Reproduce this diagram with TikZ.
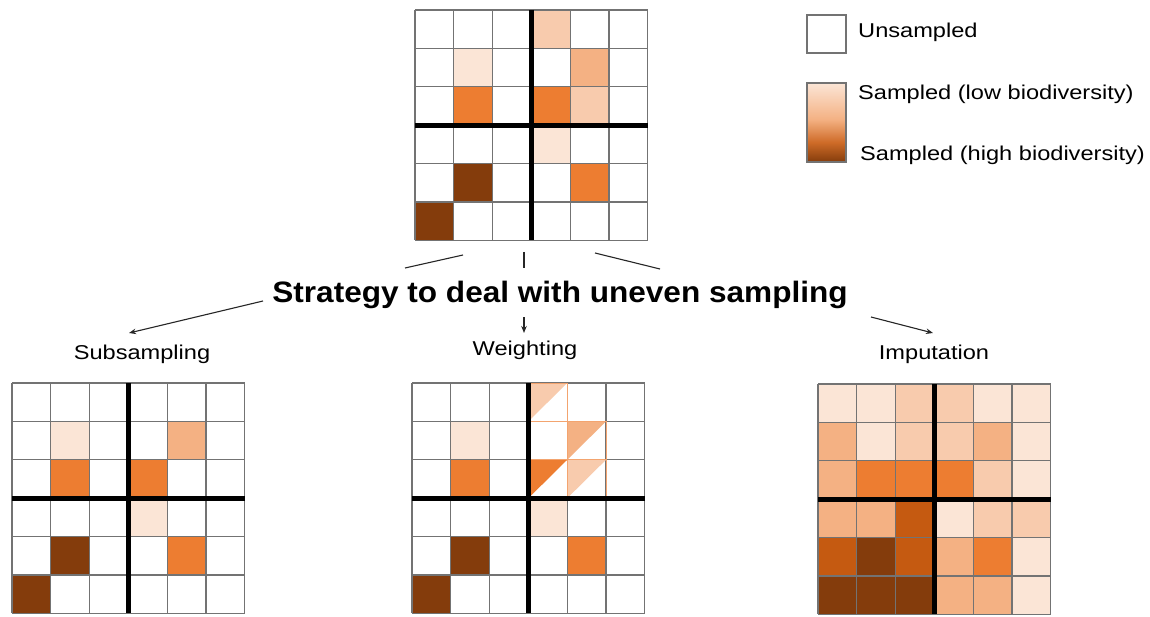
\documentclass[tikz,border=0pt]{standalone}
\usepackage{fontspec}
\setmainfont{Liberation Sans}
\newfontfamily\txtfont[FakeStretch=1.18]{Liberation Sans}
\newfontfamily\titfont[FakeStretch=1.07]{Liberation Sans}
\usetikzlibrary{arrows.meta}
\definecolor{cA}{HTML}{FBE5D6}
\definecolor{cB}{HTML}{F8CBAD}
\definecolor{cC}{HTML}{F4B183}
\definecolor{cD}{HTML}{ED7D31}
\definecolor{cE}{HTML}{C55A11}
\definecolor{cF}{HTML}{843C0C}
\definecolor{gline}{RGB}{115,115,115}
\pgfdeclareverticalshading{legshade}{100bp}{color(0bp)=(cF); color(25bp)=(cF); color(37.5bp)=(cE!80!cC); color(52bp)=(cC); color(75bp)=(cA); color(100bp)=(cA)}
\newcommand\cw{38.8}
\newcommand\ch{38.4}
\newcommand\gridframe{%
  \foreach \i in {0,...,6}{%
    \draw[gridline] (\i*\cw,0) -- (\i*\cw,6*\ch);
    \draw[gridline] (0,\i*\ch) -- (6*\cw,\i*\ch);
  }
  \draw[crossline] (3*\cw,0) -- (3*\cw,6*\ch);
  \draw[crossline] (0,3*\ch) -- (6*\cw,3*\ch);
}
\begin{document}
\begin{tikzpicture}[x=1pt,y=-1pt,
  gridline/.style={draw=gline,line width=1.3pt},
  crossline/.style={draw=black,line width=5pt},
  cellfill/.style={fill=#1},
  txt/.style={font=\txtfont\fontsize{20}{24}\selectfont,inner sep=0pt},
  ttl/.style={font=\titfont\bfseries\fontsize{29.5}{34}\selectfont,inner sep=0pt},
  conn/.style={draw=black!85,line width=1.1pt},
  arr/.style={conn,-{Stealth[length=7pt,width=5.5pt]}}]
\useasboundingbox (0,0) rectangle (1150,617);
\fill[white] (0,0) rectangle (1150,617);

% ---- top grid
\begin{scope}[shift={(415,10)}]
  \foreach \c/\r/\col in {3/0/cB,1/1/cA,4/1/cC,1/2/cD,3/2/cD,4/2/cB,3/3/cA,1/4/cF,4/4/cD,0/5/cF}
    {\fill[cellfill=\col] (\c*\cw,\r*\ch) rectangle ++(\cw,\ch);}
  \gridframe
\end{scope}

% ---- subsampling grid
\begin{scope}[shift={(12,383)}]
  \foreach \c/\r/\col in {1/1/cA,4/1/cC,1/2/cD,3/2/cD,3/3/cA,1/4/cF,4/4/cD,0/5/cF}
    {\fill[cellfill=\col] (\c*\cw,\r*\ch) rectangle ++(\cw,\ch);}
  \gridframe
\end{scope}

% ---- weighting grid
\begin{scope}[shift={(412,383)}]
  \foreach \c/\r/\col in {1/1/cA,1/2/cD,3/3/cA,1/4/cF,4/4/cD,0/5/cF}
    {\fill[cellfill=\col] (\c*\cw,\r*\ch) rectangle ++(\cw,\ch);}
  \gridframe
  \foreach \c/\r/\col in {3/0/cB,4/1/cC,3/2/cD,4/2/cB}
    {\fill[cellfill=\col] (\c*\cw,\r*\ch) -- ++(\cw,0) -- ++(-\cw,\ch) -- cycle;
     \draw[cD!70,line width=1pt] (\c*\cw,\r*\ch) rectangle ++(\cw,\ch);}
  \draw[crossline] (3*\cw,0) -- (3*\cw,6*\ch);
  \draw[crossline] (0,3*\ch) -- (6*\cw,3*\ch);
\end{scope}

% ---- imputation grid
\begin{scope}[shift={(818,384)}]
  \foreach \c/\r/\col in {0/0/cA,1/0/cA,2/0/cB,3/0/cB,4/0/cA,5/0/cA,
                          0/1/cC,1/1/cA,2/1/cB,3/1/cB,4/1/cC,5/1/cA,
                          0/2/cC,1/2/cD,2/2/cD,3/2/cD,4/2/cB,5/2/cA,
                          0/3/cC,1/3/cC,2/3/cE,3/3/cA,4/3/cB,5/3/cB,
                          0/4/cE,1/4/cF,2/4/cE,3/4/cC,4/4/cD,5/4/cA,
                          0/5/cF,1/5/cF,2/5/cF,3/5/cC,4/5/cC,5/5/cA}
    {\fill[cellfill=\col] (\c*\cw,\r*\ch) rectangle ++(\cw,\ch);}
  \gridframe
\end{scope}

% ---- legend
\draw[gridline,fill=white] (807,15) rectangle (846,53);
\shade[shading=legshade] (807,83) rectangle (846,162);
\draw[gridline] (807,83) rectangle (846,162);
\node[txt,anchor=base west] (unsampled) at (858,38) {Unsampled};
\node[txt,anchor=base west] (lowbio) at (858,100) {Sampled (low biodiversity)};
\node[txt,anchor=base west] (highbio) at (860,161) {Sampled (high biodiversity)};

% ---- title and labels
\node[ttl,anchor=base] (title) at (560,303) {Strategy to deal with uneven sampling};
\node[txt,anchor=base] (subs) at (142,359) {Subsampling};
\node[txt,anchor=base] (weig) at (525,355) {Weighting};
\node[txt,anchor=base] (impu) at (934,359) {Imputation};

% ---- connectors
\coordinate (t1a) at (463,255); \coordinate (t1b) at (405,268);
\coordinate (t2a) at (524,252); \coordinate (t2b) at (524,268);
\coordinate (t3a) at (595,253); \coordinate (t3b) at (660,269);
\draw[conn] (t1a) -- (t1b);
\draw[conn] (t2a) -- (t2b);
\draw[conn] (t3a) -- (t3b);
\coordinate (a1s) at (263,301); \coordinate (a1e) at (129,333);
\coordinate (a2s) at (524,317); \coordinate (a2e) at (524,333);
\coordinate (a3s) at (871,317); \coordinate (a3e) at (933,333);
\draw[arr] (a1s) -- (a1e);
\draw[arr] (a2s) -- (a2e);
\draw[arr] (a3s) -- (a3e);
\end{tikzpicture}
\end{document}
